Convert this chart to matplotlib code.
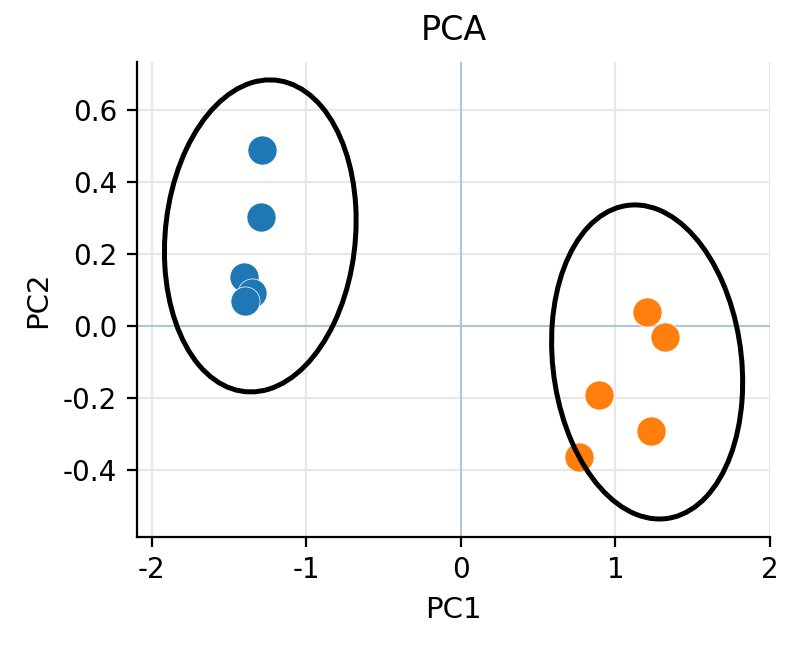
import matplotlib
matplotlib.use("Agg")
import matplotlib.pyplot as plt
from matplotlib.patches import Ellipse

# Data
group_names = ["A", "B"]
a_pc1 = [-1.288, -1.294, -1.405, -1.350, -1.398]
a_pc2 = [0.489, 0.303, 0.136, 0.092, 0.069]
b_pc1 = [1.204, 1.320, 0.893, 1.230, 0.764]
b_pc2 = [0.039, -0.031, -0.192, -0.292, -0.364]

# confidence ellipses (center x, center y, width, height, angle in degrees)
ell_cx = [-1.298, 1.205]
ell_cy = [0.250, -0.100]
ell_w = [1.246, 1.246]
ell_h = [0.858, 0.858]
ell_ang = [7.6, -9.9]

colors = ["#1f77b4", "#ff7f0e"]

plt.rcParams["axes.unicode_minus"] = False
plt.rcParams["font.family"] = ["DejaVu Sans"]

fig = plt.figure(figsize=(4.0, 3.225), dpi=200)
ax = fig.add_axes([0.171, 0.1674, 0.7915, 0.7366])

ax.grid(True, color="#e8e8e8", linewidth=0.8, zorder=0)
ax.set_axisbelow(True)
ax.axhline(0, color="#9fc0dc", linewidth=0.6, zorder=1)
ax.axvline(0, color="#9fc0dc", linewidth=0.6, zorder=1)

for xs, ys, c in zip([a_pc1, b_pc1], [a_pc2, b_pc2], colors):
    ax.scatter(xs, ys, s=110, color=c, edgecolors="white", linewidths=0.25, zorder=3)

for i in range(len(group_names)):
    e = Ellipse((ell_cx[i], ell_cy[i]), ell_w[i], ell_h[i], angle=ell_ang[i],
                facecolor="none", edgecolor="black", linewidth=1.8, zorder=4)
    ax.add_patch(e)

ax.set_xlim(-2.097, 2.0)
ax.set_ylim(-0.586, 0.733)
ax.set_xticks([-2, -1, 0, 1, 2])
ax.set_yticks([-0.4, -0.2, 0.0, 0.2, 0.4, 0.6])
ax.set_yticklabels(["-0.4", "-0.2", "0.0", "0.2", "0.4", "0.6"])
ax.tick_params(labelsize=10, length=3.5, width=0.8)
for s in ["top", "right"]:
    ax.spines[s].set_visible(False)
for s in ["left", "bottom"]:
    ax.spines[s].set_linewidth(0.8)

ax.set_title("PCA", fontsize=12, pad=8)
ax.set_xlabel("PC1", fontsize=10.5)
ax.set_ylabel("PC2", fontsize=10.5)

fig.savefig("out.png", dpi=200)
